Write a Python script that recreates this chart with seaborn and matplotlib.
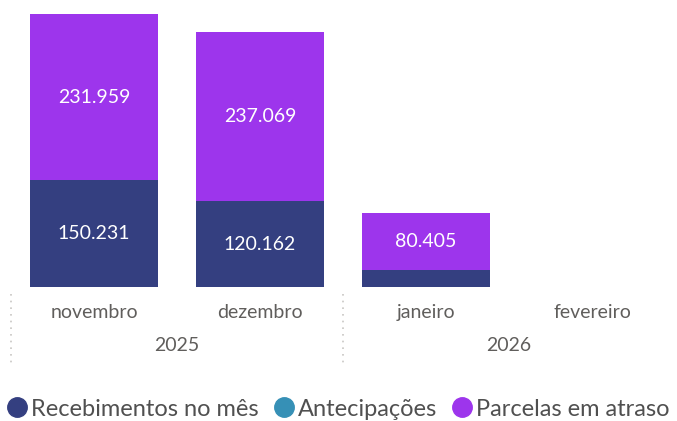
import pandas as pd
import seaborn as sns
import matplotlib.pyplot as plt
from matplotlib.lines import Line2D
import matplotlib.transforms as mtransforms

# data
months = ['novembro', 'dezembro', 'janeiro', 'fevereiro']
years = ['2025', '2025', '2026', '2026']
recebimentos = [150231, 120162, 23500, 0]
antecipacoes = [0, 0, 0, 0]
parcelas_atraso = [231959, 237069, 80405, 0]

series_names = ['Recebimentos no mês', 'Antecipações', 'Parcelas em atraso']
palette = {'Recebimentos no mês': '#343F80',
           'Antecipações': '#3690B6',
           'Parcelas em atraso': '#9D35EC'}

df = pd.DataFrame({'month': months, 'year': years,
                   'rec': recebimentos, 'ant': antecipacoes, 'parc': parcelas_atraso})
df['cum_ant'] = df['rec'] + df['ant']
df['total'] = df['cum_ant'] + df['parc']

sns.set_style('white')
plt.rcParams['font.family'] = ['Lato', 'DejaVu Sans']

fig = plt.figure(figsize=(6.77, 4.21), dpi=100)
ax = fig.add_axes([11 / 677, 134 / 421, 664 / 677, 273 / 421])

# stacked bars: draw cumulative totals then overlay lower segments
for col, name in [('total', 'Parcelas em atraso'), ('cum_ant', 'Antecipações'),
                  ('rec', 'Recebimentos no mês')]:
    sns.barplot(data=df, x='month', y=col, color=palette[name], order=months,
                width=0.77, saturation=1, linewidth=0, edgecolor='none', ax=ax)

ax.set_ylim(0, 382190 * 273 / 272.7)
ax.set_xlim(-0.5, 3.5)
sns.despine(ax=ax, left=True, bottom=True)
ax.set_yticks([])
ax.set_ylabel('')
ax.set_xlabel('')


def fmt(v):
    return f'{v:,.0f}'.replace(',', '.')


min_h = 30000
for i, row in df.iterrows():
    segs = [(0, row['rec']), (row['rec'] + row['ant'], row['parc'])]
    for base, h in segs:
        if h >= min_h:
            ax.text(i, base + h / 2, fmt(h), ha='center', va='center',
                    color='white', fontsize=14)

ax.tick_params(axis='x', length=0, pad=12, labelsize=14, labelcolor='#605E5C')

# year level of the axis
trans = mtransforms.blended_transform_factory(ax.transData, ax.transAxes)
for yr in sorted(set(years)):
    idx = [i for i, y in enumerate(years) if y == yr]
    ax.text(sum(idx) / len(idx), -0.215, yr, transform=trans, ha='center', va='center',
            fontsize=14, color='#605E5C')

for xpos in [-0.5, 1.5]:
    ax.plot([xpos, xpos], [-0.025, -0.29], transform=trans, clip_on=False,
            color='#C8C6C4', linestyle=(0, (1, 3)), linewidth=1.2)

handles = [Line2D([0], [0], marker='o', linestyle='', markersize=14,
                  markerfacecolor=palette[s], markeredgecolor=palette[s]) for s in series_names]
fig.legend(handles, series_names, loc='center', bbox_to_anchor=(0.5, 12 / 421),
           ncol=3, frameon=False, handlelength=0.8, handletextpad=0.2, columnspacing=0.65,
           fontsize=17, labelcolor='#505050', borderaxespad=0)

fig.savefig('out.png', dpi=100)
